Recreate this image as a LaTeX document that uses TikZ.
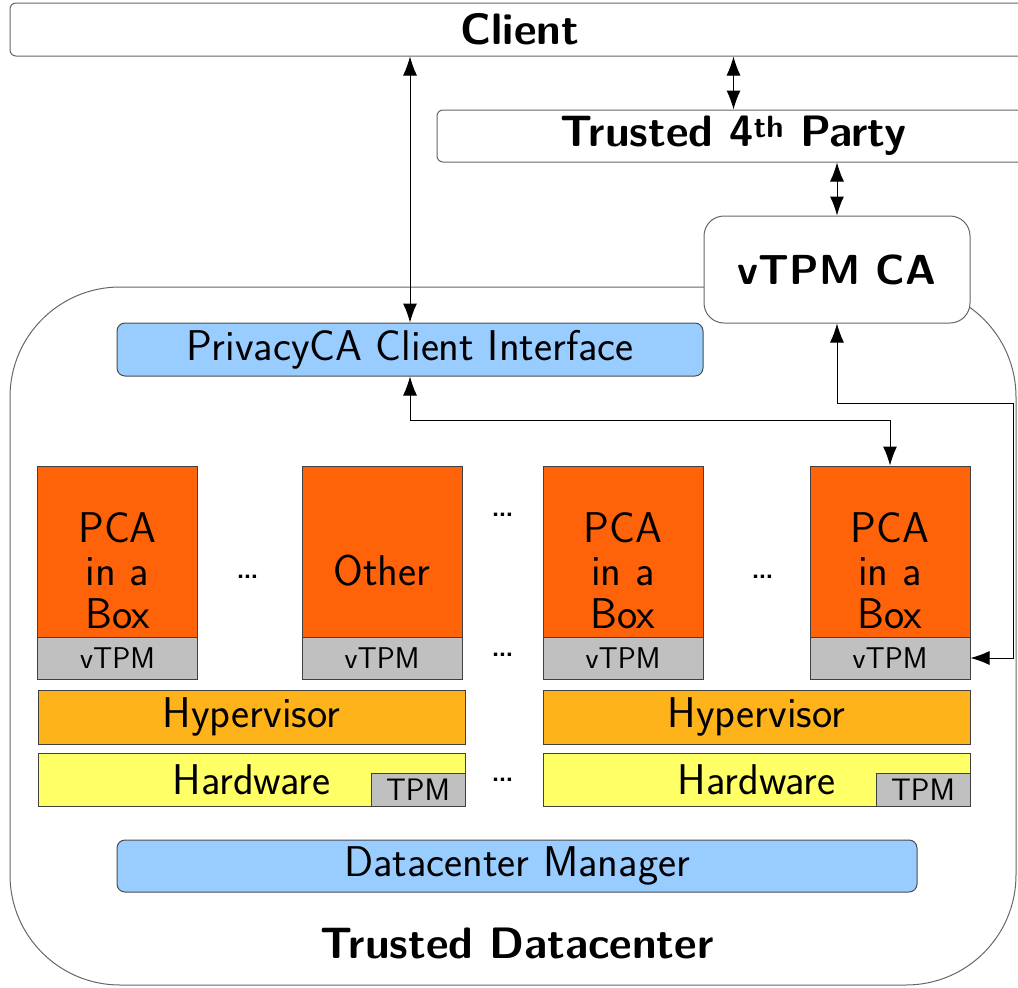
\documentclass[tikz,border=0pt]{standalone}
\usepackage{fontspec}
\setmainfont{Latin Modern Sans}
\usetikzlibrary{arrows.meta}
\definecolor{pcaorange}{HTML}{FF6309}
\definecolor{hyporange}{HTML}{FFB31A}
\definecolor{hwyellow}{HTML}{FFFF66}
\definecolor{tpmgrey}{HTML}{C0C0C0}
\definecolor{ifblue}{HTML}{99CCFF}
\tikzset{
  frame/.style={draw=black!60, line width=1pt},
  titlebox/.style={draw=black!60, fill=white, line width=1pt, rounded corners=6pt,
    inner sep=0pt, font=\bfseries\fontsize{44}{48}\selectfont},
  ifbox/.style={draw=black!70, fill=ifblue, line width=1pt, rounded corners=8pt,
    inner sep=0pt, font=\fontsize{43}{46}\selectfont},
  layer/.style={draw=black!75, line width=1pt, inner sep=0pt,
    font=\fontsize{43}{43}\selectfont},
  pcabox/.style={layer, fill=pcaorange, minimum width=160pt, minimum height=171pt},
  pcatext/.style={inner sep=0pt, align=center, font=\fontsize{43}{43}\selectfont},
  vtpmbox/.style={layer, fill=tpmgrey, minimum width=160pt, minimum height=42pt,
    font=\fontsize{30}{32}\selectfont},
  tpmbox/.style={layer, fill=tpmgrey, minimum width=94pt, minimum height=33pt,
    font=\fontsize{31}{32}\selectfont},
  dots/.style={inner sep=0pt, font=\fontsize{42}{46}\selectfont},
  link/.style={<->, line width=1pt, draw=black}
}
\begin{document}
\begin{tikzpicture}[x=1pt, y=-1pt, >={Latex[length=19pt,width=14pt]}]
  \useasboundingbox (0,0) rectangle (1018,988);
  \clip (0,0) rectangle (1018,988);
  % trusted datacenter frame
  \draw[frame, rounded corners=110pt] (10,287) rectangle (1016,985);
  % outside parties
  \node[titlebox, minimum width=1020pt, minimum height=53pt] (client) at (520,29.5) {Client};
  \node[titlebox, minimum width=593pt, minimum height=52pt] (party) at (733.5,136)
    {Trusted 4\textsuperscript{th} Party};
  \node[titlebox, rounded corners=20pt, minimum width=266pt, minimum height=107pt,
    font=\bfseries\fontsize{42}{48}\selectfont] (vtpmca) at (837,269.5) {vTPM CA};
  \node[ifbox, minimum width=586pt, minimum height=53pt] (privacy) at (410,349.5)
    {PrivacyCA Client Interface};
  % virtual machines
  \foreach \n/\x/\t in {1/117.5/{PCA\\in a\\Box}, 2/382/{Other},
                        3/623/{PCA\\in a\\Box}, 4/890/{PCA\\in a\\Box}} {
    \node[pcabox] (pca\n) at (\x,551.5) {};
    \node[pcatext] (pcatext\n) at ([yshift=-19pt]pca\n.center) {\t};
    \node[vtpmbox] (vtpm\n) at (\x,658) {vTPM};
  }
  % hypervisors and hardware
  \foreach \n/\x in {1/251.5, 2/756.5} {
    \node[layer, fill=hyporange, minimum width=427pt, minimum height=54pt] (hyp\n) at (\x,717) {Hypervisor};
    \node[layer, fill=hwyellow, minimum width=427pt, minimum height=53pt] (hw\n) at (\x,779.5) {Hardware};
    \node[tpmbox, anchor=south east] (tpm\n) at (hw\n.south east) {TPM};
  }
  \node[dots] (dots1) at (248,577) {\dots};
  \node[dots] (dots2) at (503,515) {\dots};
  \node[dots] (dots3) at (763,577) {\dots};
  \node[dots] (dots4) at (503,655) {\dots};
  \node[dots] (dots5) at (503,780) {\dots};
  \node[ifbox, minimum width=800pt, minimum height=52pt] (manager) at (517,866) {Datacenter Manager};
  \node[inner sep=0pt, font=\bfseries\fontsize{44}{48}\selectfont] (dctitle) at (517,943) {Trusted Datacenter};
  % connectors
  \draw[link] (privacy.north) -- (privacy.north |- client.south);
  \draw[link] (party.north) -- (party.north |- client.south);
  \draw[link] (vtpmca.north) -- (vtpmca.north |- party.south);
  \draw[link] (privacy.south) -- ++(0,44) -| (pca4.north);
  \coordinate (turn) at (1013,403);
  \draw[link] (vtpmca.south) |- (turn) |- (vtpm4.east);
\end{tikzpicture}
\end{document}
